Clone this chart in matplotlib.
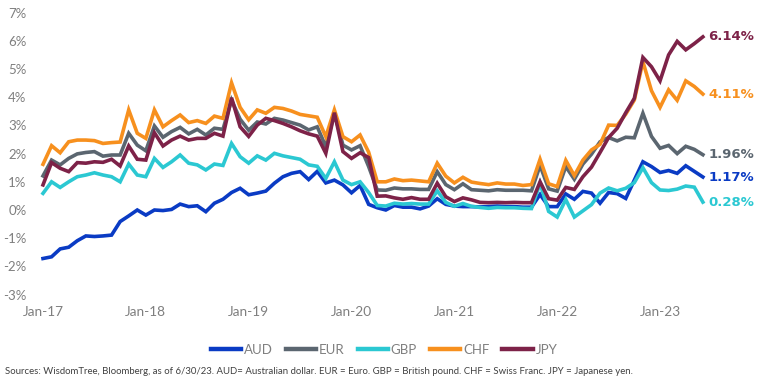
import matplotlib
matplotlib.use("Agg")
import matplotlib.pyplot as plt
import pandas as pd

dates = pd.date_range("2017-01-01", "2023-06-01", freq="MS")

aud = [-1.72, -1.66, -1.38, -1.32, -1.09, -0.92, -0.94, -0.92, -0.89, -0.41,
       -0.21, 0.00, -0.18, 0.00, -0.02, 0.02, 0.21, 0.12, 0.15, -0.06,
       0.24, 0.38, 0.62, 0.77, 0.54, 0.60, 0.67, 0.95, 1.18, 1.30,
       1.36, 1.08, 1.37, 0.96, 1.06, 0.89, 0.61, 0.87, 0.20, 0.08,
       0.00, 0.16, 0.10, 0.10, 0.04, 0.14, 0.40, 0.20, 0.14, 0.12,
       0.12, 0.11, 0.12, 0.14, 0.12, 0.12, 0.10, 0.10, 0.55, 0.12,
       0.12, 0.57, 0.38, 0.66, 0.60, 0.24, 0.62, 0.58, 0.41, 1.06,
       1.71, 1.54, 1.33, 1.40, 1.30, 1.57, 1.37, 1.17]

eur = [1.21, 1.77, 1.60, 1.83, 1.99, 2.04, 2.07, 1.91, 1.95, 1.95,
       2.72, 2.30, 2.10, 2.98, 2.58, 2.78, 2.93, 2.70, 2.86, 2.66,
       2.90, 2.86, 3.90, 3.22, 2.83, 3.12, 3.05, 3.25, 3.19, 3.10,
       3.01, 2.84, 2.95, 2.25, 3.43, 2.30, 2.13, 2.28, 1.54, 0.71,
       0.70, 0.78, 0.75, 0.75, 0.73, 0.73, 1.36, 0.90, 0.72, 0.93,
       0.72, 0.70, 0.68, 0.72, 0.70, 0.70, 0.70, 0.68, 1.58, 0.75,
       0.67, 1.54, 1.09, 1.63, 1.98, 2.42, 2.57, 2.45, 2.58, 2.56,
       3.43, 2.61, 2.19, 2.29, 2.00, 2.26, 2.15, 1.96]

gbp = [0.59, 1.00, 0.80, 1.00, 1.18, 1.24, 1.32, 1.24, 1.18, 1.00,
       1.63, 1.24, 1.18, 1.83, 1.51, 1.71, 1.95, 1.66, 1.60, 1.42,
       1.63, 1.58, 2.36, 1.89, 1.66, 1.92, 1.77, 2.01, 1.92, 1.86,
       1.80, 1.60, 1.55, 1.12, 1.71, 1.06, 0.90, 1.00, 0.62, 0.16,
       0.14, 0.24, 0.21, 0.23, 0.21, 0.21, 0.68, 0.27, 0.13, 0.23,
       0.13, 0.09, 0.06, 0.09, 0.08, 0.08, 0.06, 0.05, 0.95, -0.05,
       -0.25, 0.37, -0.25, -0.03, 0.19, 0.60, 0.78, 0.68, 0.77, 0.97,
       1.50, 0.97, 0.71, 0.69, 0.74, 0.85, 0.81, 0.28]

chf = [1.62, 2.28, 2.03, 2.42, 2.48, 2.48, 2.46, 2.36, 2.39, 2.41,
       3.55, 2.72, 2.54, 3.55, 2.95, 3.17, 3.37, 3.10, 3.17, 3.07,
       3.33, 3.25, 4.51, 3.64, 3.20, 3.55, 3.43, 3.64, 3.60, 3.51,
       3.39, 3.34, 3.29, 2.60, 3.55, 2.60, 2.42, 2.66, 2.05, 1.00,
       1.00, 1.10, 1.04, 1.06, 1.03, 1.00, 1.66, 1.20, 0.96, 1.16,
       0.99, 0.94, 0.90, 0.96, 0.92, 0.92, 0.87, 0.90, 1.80, 0.93,
       0.83, 1.76, 1.22, 1.77, 2.13, 2.33, 3.01, 3.00, 3.40, 3.90,
       5.26, 4.23, 3.64, 4.26, 3.89, 4.58, 4.38, 4.11]

jpy = [0.89, 1.68, 1.48, 1.36, 1.68, 1.66, 1.71, 1.69, 1.80, 1.56,
       2.27, 1.80, 1.77, 2.74, 2.27, 2.48, 2.62, 2.48, 2.54, 2.54,
       2.72, 2.62, 3.98, 2.95, 2.61, 3.01, 3.25, 3.17, 3.07, 2.95,
       2.81, 2.70, 2.62, 2.01, 3.45, 2.07, 1.83, 2.03, 1.86, 0.49,
       0.50, 0.43, 0.38, 0.44, 0.38, 0.38, 0.95, 0.47, 0.30, 0.43,
       0.36, 0.27, 0.26, 0.27, 0.26, 0.27, 0.26, 0.26, 1.00, 0.40,
       0.35, 0.80, 0.73, 1.18, 1.52, 2.04, 2.57, 2.90, 3.45, 3.96,
       5.41, 5.08, 4.58, 5.50, 5.98, 5.68, 5.90, 6.14]

series_names = ["AUD", "EUR", "GBP", "CHF", "JPY"]
series_values = [aud, eur, gbp, chf, jpy]
colors = ["#0A3BC4", "#5B6670", "#2BC8D2", "#F7901E", "#7D2248"]

y_ticks = [-3, -2, -1, 0, 1, 2, 3, 4, 5, 6, 7]
x_tick_labels = ["Jan-17", "Jan-18", "Jan-19", "Jan-20", "Jan-21", "Jan-22", "Jan-23"]

W, H = 759, 387
fig = plt.figure(figsize=(W / 100, H / 100), dpi=100)

# axes placement in pixels
left_px, right_px = 35, 745
top_px, bot_px = 10, 298
ax = fig.add_axes([left_px / W, 1 - bot_px / H, (right_px - left_px) / W, (bot_px - top_px) / H])

x = list(range(len(dates)))
px_per_month = 8.57
x0_px = 43
ax.set_xlim((left_px - x0_px) / px_per_month, (right_px - x0_px) / px_per_month)
ppu = 28.2
zero_px = 210
ax.set_ylim((zero_px - bot_px) / ppu, (zero_px - top_px) / ppu)

for name, vals, c in zip(series_names, series_values, colors):
    ax.plot(x, vals, color=c, lw=2.6, label=name, solid_joinstyle="miter")
    ax.annotate(f"{vals[-1]:.2f}%", xy=(x[-1], vals[-1]), xytext=(4, 0),
                textcoords="offset points", va="center", ha="left",
                color=c, fontsize=9.5, fontweight="bold", family="DejaVu Sans")

tick_font = "Lato"
ax.set_yticks(y_ticks)
ax.set_yticklabels([f"{t}%" for t in y_ticks], family=tick_font, fontsize=9.5, color="#7F7F7F")
ax.set_xticks([i for i, d in enumerate(dates) if d.month == 1])
ax.set_xticklabels(x_tick_labels, family=tick_font, fontsize=9.8, color="#7F7F7F")
ax.tick_params(axis="both", length=0)
ax.tick_params(axis="y", pad=6)
ax.tick_params(axis="x", pad=6)
for s in ax.spines.values():
    s.set_visible(False)

leg = fig.legend(loc="center", bbox_to_anchor=(384 / W, 1 - 350 / H), ncol=5, frameon=False,
                 handlelength=2.3, handletextpad=0.2, columnspacing=1.0,
                 prop={"family": tick_font, "size": 9.5})
for t in leg.get_texts():
    t.set_color("#7F7F7F")
for l in leg.get_lines():
    l.set_linewidth(3.2)

fig.text(5 / W, 1 - 371 / H,
         "Sources: WisdomTree, Bloomberg, as of 6/30/23. AUD= Australian dollar. EUR = Euro. GBP = British pound. CHF = Swiss Franc. JPY = Japanese yen.",
         family=tick_font, fontsize=6.95, color="#404040", va="center", ha="left")

fig.savefig("out.png", dpi=100)
